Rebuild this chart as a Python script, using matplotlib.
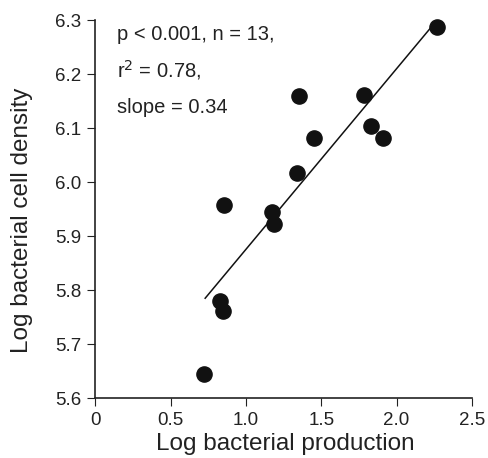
import matplotlib.pyplot as plt
import numpy as np

plt.rcParams['font.family'] = ['Liberation Sans', 'DejaVu Sans']

# log bacterial production vs log bacterial cell density
prod = [2.27, 1.354, 1.785, 1.832, 1.907, 1.451, 1.338, 0.858, 1.172, 1.186, 0.827, 0.847, 0.725]
dens = [6.287, 6.159, 6.162, 6.103, 6.082, 6.082, 6.017, 5.957, 5.944, 5.923, 5.780, 5.762, 5.644]

xticks = [0, 0.5, 1.0, 1.5, 2.0, 2.5]
xticklabels = ['0', '0.5', '1.0', '1.5', '2.0', '2.5']
yticks = [5.6, 5.7, 5.8, 5.9, 6.0, 6.1, 6.2, 6.3]

fig = plt.figure(figsize=(4.88, 4.58), dpi=100)
ax = fig.add_axes([0.195, 0.131, 0.772, 0.825])

ax.scatter(prod, dens, s=120, color='#111111', zorder=3, clip_on=False)

# regression line
k, b = np.polyfit(prod, dens, 1)
xl = np.array([0.73, 2.245])
ax.plot(xl, k * xl + b, color='#111111', lw=1.1)

ax.set_xlim(0, 2.5)
ax.set_ylim(5.6, 6.3)
ax.set_xticks(xticks)
ax.set_xticklabels(xticklabels)
ax.set_yticks(yticks)
ax.set_yticklabels([f'{v:.1f}' for v in yticks])
ax.spines['top'].set_visible(False)
ax.spines['right'].set_visible(False)
for s in ['left', 'bottom']:
    ax.spines[s].set_linewidth(1.2)
    ax.spines[s].set_color('#222222')
ax.tick_params(direction='out', length=5.5, width=0.8, labelsize=13.5, colors='#222222', pad=4.5)

ax.set_xlabel('Log bacterial production', fontsize=17.5, color='#222222')
ax.set_ylabel('Log bacterial cell density', fontsize=17.5, color='#222222')
ax.xaxis.set_label_coords(0.504, -0.093)
ax.yaxis.set_label_coords(-0.165, 0.47)

tx = 0.058
ax.text(tx, 0.947, 'p < 0.001, n = 13,', transform=ax.transAxes, fontsize=14.5, va='baseline', color='#222222')
ax.text(tx, 0.849, 'r$^2$ = 0.78,', transform=ax.transAxes, fontsize=14.5, va='baseline', color='#222222')
ax.text(tx, 0.754, 'slope = 0.34', transform=ax.transAxes, fontsize=14.5, va='baseline', color='#222222')

fig.savefig('out.png', dpi=100)
